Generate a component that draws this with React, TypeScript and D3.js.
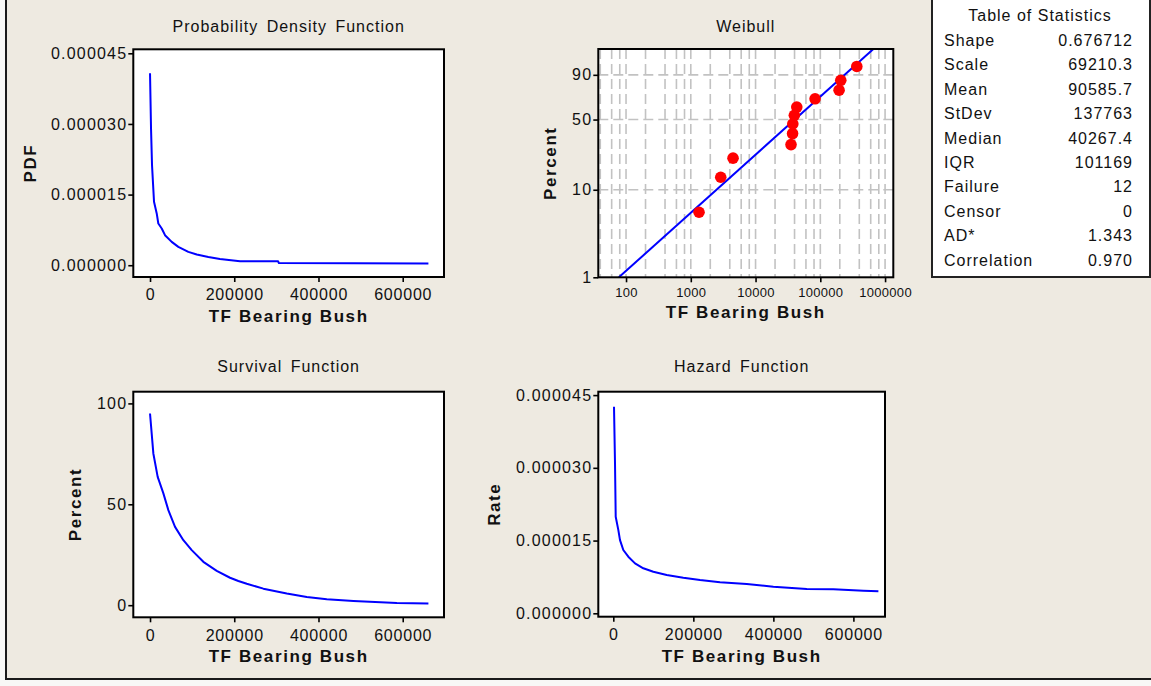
import { useEffect, useRef } from 'react'

import { axisBottom, axisLeft, format, line, scaleLinear, scaleLog, select } from 'd3'

const WIDTH = 1151
const HEIGHT = 686
const FONT = '"Liberation Sans", Arial, Helvetica, sans-serif'
const PAGE_BG = '#f8f8f6'
const FRAME_BG = '#eeeae1'
const CURVE = '#0000ff'

// Probability density function
const pdfTimes = [0, 2375, 4750, 9500, 15900, 19700, 27800, 35600, 51500, 67200, 91000, 110900, 138500, 166000, 213800, 304000, 306000, 661000]
const pdfValues = [40.75e-6, 29.06e-6, 21.26e-6, 13.46e-6, 11.0e-6, 8.86e-6, 7.8e-6, 6.38e-6, 4.95e-6, 3.89e-6, 2.83e-6, 2.27e-6, 1.76e-6, 1.34e-6, 0.85e-6, 0.85e-6, 0.45e-6, 0.36e-6]

// Survival function, percent
const survivalTimes = [0, 7900, 18200, 31700, 43500, 59400, 79200, 99000, 126600, 158400, 190000, 209700, 229700, 269100, 324700, 372200, 419700, 483000, 586000, 661000]
const survivalPercents = [95.0, 75.2, 63.6, 55.4, 47.1, 38.8, 32.2, 27.3, 21.5, 17.0, 13.6, 12.0, 10.6, 8.2, 5.8, 4.1, 3.0, 2.1, 1.1, 0.8]

// Hazard function, rate
const hazardTimes = [1750, 4250, 6000, 12500, 16750, 25000, 37500, 54250, 75000, 100000, 133500, 175000, 216750, 266750, 333500, 400000, 483500, 550000, 625000, 662500]
const hazardRates = [42.6e-6, 30.9e-6, 19.9e-6, 17.2e-6, 15.1e-6, 13.05e-6, 11.67e-6, 10.3e-6, 9.28e-6, 8.58e-6, 7.9e-6, 7.34e-6, 6.86e-6, 6.39e-6, 6.04e-6, 5.48e-6, 5.0e-6, 4.95e-6, 4.66e-6, 4.53e-6]

// Weibull probability plot: failures and their plotted percents
const failureTimes = [1340, 2900, 4490, 35300, 37300, 37600, 39700, 43300, 83000, 195000, 207000, 366000]
const failurePercents = [5.6, 13.7, 21.8, 29.8, 37.9, 46.0, 54.0, 62.1, 70.2, 78.2, 86.3, 94.4]
// fitted line, read at both ends
const fitTimes = [77.5, 660000]
const fitPercents = [1, 99]

const linearTimeTicks = [0, 200000, 400000, 600000]
const rateTicks = [0, 15e-6, 30e-6, 45e-6]
const survivalTicks = [0, 50, 100]
const weibullTimeTicks = [100, 1000, 10000, 100000, 1000000]
const weibullPercentTicks = [1, 10, 50, 90]
const weibullGridPercents = [10, 50, 90]
const weibullGridMultiples = [1, 2, 4, 6, 8]

const statLabels = ['Shape', 'Scale', 'Mean', 'StDev', 'Median', 'IQR', 'Failure', 'Censor', 'AD*', 'Correlation']
const statValues = ['0.676712', '69210.3', '90585.7', '137763', '40267.4', '101169', '12', '0', '1.343', '0.970']

interface Box {
  left: number
  top: number
  right: number
  bottom: number
}

const pdfBox: Box = { left: 133.3, top: 49.3, right: 444, bottom: 277 }
const weibullBox: Box = { left: 598.3, top: 49, right: 893.3, bottom: 277.3 }
const survivalBox: Box = { left: 133.3, top: 391.7, right: 444, bottom: 617.3 }
const hazardBox: Box = { left: 598.3, top: 391.7, right: 885, bottom: 616.7 }

const weibullTransform = (percent: number) => Math.log(-Math.log(1 - percent / 100))

function styleAxis(group: any, size: number, spacing: number) {
  group.attr('font-family', FONT).attr('font-size', size)
  group.select('.domain').remove()
  group.selectAll('line').attr('stroke', '#000').attr('stroke-width', 1.6)
  group.selectAll('text').attr('fill', '#111').attr('letter-spacing', spacing)
}

function panelBackground(svg: any, box: Box) {
  svg
    .append('rect')
    .attr('x', box.left)
    .attr('y', box.top)
    .attr('width', box.right - box.left)
    .attr('height', box.bottom - box.top)
    .attr('fill', '#fff')
}

function panelOutline(svg: any, box: Box) {
  svg
    .append('rect')
    .attr('x', box.left)
    .attr('y', box.top)
    .attr('width', box.right - box.left)
    .attr('height', box.bottom - box.top)
    .attr('fill', 'none')
    .attr('stroke', '#000')
    .attr('stroke-width', 2)
}

function panelTexts(
  svg: any,
  box: Box,
  title: string,
  titleY: number,
  xLabelY: number,
  yLabel: string,
  yLabelX: number
) {
  const cx = (box.left + box.right) / 2
  const cy = (box.top + box.bottom) / 2
  svg
    .append('text')
    .attr('x', cx)
    .attr('y', titleY)
    .attr('text-anchor', 'middle')
    .attr('font-size', 16)
    .attr('letter-spacing', 1)
    .attr('word-spacing', 3)
    .attr('fill', '#111')
    .text(title)
  svg
    .append('text')
    .attr('x', cx)
    .attr('y', xLabelY)
    .attr('text-anchor', 'middle')
    .attr('font-size', 17)
    .attr('font-weight', 'bold')
    .attr('letter-spacing', 1.6)
    .attr('fill', '#111')
    .text('TF Bearing Bush')
  svg
    .append('text')
    .attr('transform', `translate(${yLabelX},${cy}) rotate(-90)`)
    .attr('text-anchor', 'middle')
    .attr('dominant-baseline', 'central')
    .attr('font-size', 17)
    .attr('font-weight', 'bold')
    .attr('letter-spacing', 1.6)
    .attr('fill', '#111')
    .text(yLabel)
}

function drawCurvePanel(
  svg: any,
  box: Box,
  xDomain: [number, number],
  yDomain: [number, number],
  times: number[],
  values: number[],
  yTicks: number[],
  yFormat: (v: number) => string
) {
  const x = scaleLinear().domain(xDomain).range([box.left, box.right])
  const y = scaleLinear().domain(yDomain).range([box.bottom, box.top])

  panelBackground(svg, box)

  const points = times.map((t, i) => [t, values[i]] as [number, number])
  svg
    .append('path')
    .datum(points)
    .attr(
      'd',
      line<[number, number]>()
        .x(d => x(d[0]))
        .y(d => y(d[1]))
    )
    .attr('fill', 'none')
    .attr('stroke', CURVE)
    .attr('stroke-width', 2)
    .attr('stroke-linejoin', 'round')

  panelOutline(svg, box)

  svg
    .append('g')
    .attr('transform', `translate(0,${box.bottom})`)
    .call(axisBottom(x).tickValues(linearTimeTicks).tickSize(5).tickPadding(7).tickFormat(format('d')))
    .call((g: any) => styleAxis(g, 16, 0.8))

  svg
    .append('g')
    .attr('transform', `translate(${box.left},0)`)
    .call(axisLeft(y).tickValues(yTicks).tickSize(5).tickPadding(1).tickFormat(yFormat as any))
    .call((g: any) => styleAxis(g, 16, 1.2))
}

function drawWeibull(svg: any, box: Box) {
  const x = scaleLog().domain([37.3, 1.34e6]).range([box.left, box.right])
  const yLin = scaleLinear()
    .domain([weibullTransform(1), weibullTransform(99)])
    .range([box.bottom, box.top])
  const y = (p: number) => yLin(weibullTransform(p))

  panelBackground(svg, box)

  const grid = svg.append('g').attr('stroke', '#c2c2c2').attr('stroke-width', 1.6).attr('stroke-dasharray', '10,5')
  const [lo, hi] = x.domain()
  const gridTimes: number[] = []
  for (let power = 1; power <= 6; power++) {
    weibullGridMultiples.forEach(m => {
      const v = m * Math.pow(10, power)
      if (v > lo * 1.03 && v < hi * 0.97) gridTimes.push(v)
    })
  }
  gridTimes.forEach(v => {
    grid
      .append('line')
      .attr('x1', x(v))
      .attr('x2', x(v))
      .attr('y1', box.top)
      .attr('y2', box.bottom)
  })
  weibullGridPercents.forEach(p => {
    grid
      .append('line')
      .attr('x1', box.left)
      .attr('x2', box.right)
      .attr('y1', y(p))
      .attr('y2', y(p))
  })

  const fit = fitTimes.map((t, i) => [t, fitPercents[i]] as [number, number])
  svg
    .append('path')
    .datum(fit)
    .attr(
      'd',
      line<[number, number]>()
        .x(d => x(d[0]))
        .y(d => y(d[1]))
    )
    .attr('fill', 'none')
    .attr('stroke', CURVE)
    .attr('stroke-width', 2)

  svg
    .append('g')
    .selectAll('circle')
    .data(failureTimes.map((t, i) => [t, failurePercents[i]]))
    .join('circle')
    .attr('cx', (d: number[]) => x(d[0]))
    .attr('cy', (d: number[]) => y(d[1]))
    .attr('r', 5.8)
    .attr('fill', '#ff0000')

  panelOutline(svg, box)

  svg
    .append('g')
    .attr('transform', `translate(0,${box.bottom})`)
    .call(axisBottom(x).tickValues(weibullTimeTicks).tickSize(5).tickPadding(5).tickFormat(format('d')))
    .call((g: any) => styleAxis(g, 13, 0.3))

  svg
    .append('g')
    .attr('transform', `translate(${box.left},0)`)
    .call(
      axisLeft(yLin)
        .tickValues(weibullPercentTicks.map(weibullTransform))
        .tickSize(5)
        .tickPadding(1)
        .tickFormat((_d: any, i: number) => String(weibullPercentTicks[i]))
    )
    .call((g: any) => styleAxis(g, 16, 1.2))
}

function drawTable(svg: any) {
  const left = 932
  const right = 1150
  svg
    .append('rect')
    .attr('x', left)
    .attr('y', -4)
    .attr('width', right - left)
    .attr('height', 277 + 4)
    .attr('fill', '#fff')
    .attr('stroke', '#222')
    .attr('stroke-width', 2)

  const g = svg.append('g').attr('font-size', 16).attr('letter-spacing', 1).attr('fill', '#111')
  g.append('text').attr('x', 1040).attr('y', 21).attr('text-anchor', 'middle').text('Table of Statistics')
  statLabels.forEach((label, i) => {
    const baseline = 46 + i * 24.4
    g.append('text').attr('x', 944).attr('y', baseline).text(label)
    g.append('text').attr('x', 1133).attr('y', baseline).attr('text-anchor', 'end').text(statValues[i])
  })
}

function ReliabilityOverview() {
  const svgRef = useRef<SVGSVGElement | null>(null)

  useEffect(() => {
    if (!svgRef.current) {
      return
    }
    const svg = select(svgRef.current)
    svg.selectAll('*').remove()
    svg.attr('font-family', FONT)

    svg.append('rect').attr('width', WIDTH).attr('height', HEIGHT).attr('fill', PAGE_BG)
    svg
      .append('rect')
      .attr('x', 6)
      .attr('y', -10)
      .attr('width', WIDTH + 20)
      .attr('height', 689)
      .attr('fill', FRAME_BG)
      .attr('stroke', '#1a1a1a')
      .attr('stroke-width', 2)

    const rateFormat = format('.6f')

    drawCurvePanel(svg, pdfBox, [-39700, 698000], [-2.5e-6, 45.85e-6], pdfTimes, pdfValues, rateTicks, rateFormat)
    panelTexts(svg, pdfBox, 'Probability Density Function', 31.5, 321.5, 'PDF', 30)

    drawWeibull(svg, weibullBox)
    panelTexts(svg, weibullBox, 'Weibull', 31.5, 317.5, 'Percent', 550)

    drawCurvePanel(
      svg,
      survivalBox,
      [-39700, 698000],
      [-6.0, 105.8],
      survivalTimes,
      survivalPercents,
      survivalTicks,
      format('d')
    )
    panelTexts(svg, survivalBox, 'Survival Function', 372, 662, 'Percent', 75)

    drawCurvePanel(svg, hazardBox, [-37500, 679000], [-0.7e-6, 45.7e-6], hazardTimes, hazardRates, rateTicks, rateFormat)
    panelTexts(svg, hazardBox, 'Hazard Function', 372, 662, 'Rate', 494.5)

    drawTable(svg)
  }, [])

  return (
    <svg
      ref={svgRef}
      width={WIDTH}
      height={HEIGHT}
      style={{ position: 'absolute', left: 0, top: 0, display: 'block' }}
    />
  )
}

export default function App() {
  return <ReliabilityOverview />
}
